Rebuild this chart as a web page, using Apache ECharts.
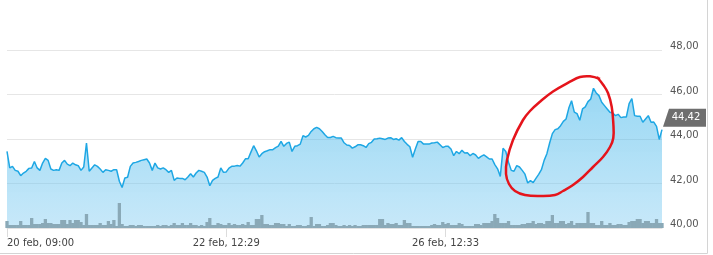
<!DOCTYPE html>
<html><head><meta charset="utf-8">
<script src="https://cdn.jsdelivr.net/npm/echarts@6/dist/echarts.min.js"></script>
<style>html,body{margin:0;padding:0;background:#fff}#c{width:713px;height:255px}</style>
</head><body><div id="c"></div>
<script>
// Tick labels on the time axis (one every 80 samples)
const tickLabels = ['20 feb, 09:00', '22 feb, 12:29', '26 feb, 12:33'];
const tickStep = 80;
const yMin = 40, yMax = 48, yStep = 2;

// Price (EUR) samples
const price = [
 43.44,42.70,42.77,42.59,42.55,42.35,42.47,42.55,42.68,42.70,42.99,42.70,42.59,42.92,43.13,43.04,42.65,42.59,42.62,42.59,
 42.92,43.04,42.87,42.80,42.92,42.84,42.80,42.59,42.74,43.82,42.55,42.70,42.84,42.77,42.65,42.50,42.62,42.59,42.55,42.62,
 42.62,42.10,41.82,42.25,42.28,42.77,42.92,42.95,42.99,43.04,43.07,43.10,42.92,42.59,42.92,42.70,42.65,42.70,42.62,42.50,
 42.59,42.14,42.25,42.23,42.23,42.17,42.29,42.44,42.29,42.47,42.59,42.55,42.50,42.29,41.90,42.14,42.23,42.29,42.70,42.50,
 42.52,42.69,42.77,42.78,42.81,42.78,42.92,43.11,43.11,43.41,43.70,43.47,43.19,43.34,43.43,43.47,43.52,43.52,43.61,43.68,
 43.89,43.67,43.80,43.86,43.44,43.67,43.70,43.77,44.15,44.09,44.16,44.34,44.46,44.52,44.46,44.34,44.19,44.07,44.07,44.12,
 44.06,44.04,44.04,43.83,43.73,43.71,43.59,43.65,43.74,43.74,43.70,43.62,43.79,43.85,44.00,44.01,44.04,44.01,43.98,44.04,
 44.06,43.98,44.01,43.95,44.06,43.89,43.76,43.65,43.18,43.55,43.89,43.89,43.77,43.77,43.77,43.82,43.83,43.86,43.74,43.62,
 43.67,43.67,43.55,43.25,43.44,43.34,43.49,43.37,43.38,43.25,43.35,43.28,43.13,43.22,43.29,43.20,43.10,43.10,42.85,42.66,
 42.32,43.58,43.44,42.96,42.59,42.55,42.80,42.74,42.59,42.42,42.02,42.13,42.04,42.23,42.41,42.62,43.04,43.34,43.82,44.24,
 44.42,44.46,44.60,44.79,44.90,45.39,45.72,45.21,45.14,44.84,45.35,45.44,45.68,45.80,46.28,46.07,45.95,45.65,45.50,45.35,
 45.20,45.17,45.05,45.11,44.96,44.99,44.99,45.59,45.82,45.05,45.02,45.02,44.75,44.90,45.05,44.75,44.76,44.57,43.98,44.42
];

// Traded volume (relative units)
const volume = [
 7,3,3,3,3,7,3,3,3,10,4,4,4,5,9,5,5,4,4,4,8,8,4,8,5,8,8,6,3,14,3,3,3,3,5,3,3,7,4,8,
 2,25,4,2,2,3,3,2,3,3,2,2,2,2,2,3,2,3,3,2,3,5,3,3,5,3,3,5,3,3,2,3,2,6,10,3,3,5,4,3,
 3,5,3,4,3,3,4,3,6,3,3,9,9,13,4,4,3,3,5,5,4,4,2,4,2,2,3,3,2,2,3,11,2,4,4,2,2,3,5,5,
 3,2,2,3,2,3,2,3,2,2,3,3,3,3,3,3,9,9,3,5,4,4,5,3,3,8,5,5,2,2,2,2,2,2,2,3,4,3,3,6,
 4,5,3,3,3,5,4,2,2,2,2,4,4,3,5,5,5,7,14,10,5,5,5,7,3,3,3,3,4,4,5,5,7,4,5,5,4,7,7,13,
 5,5,7,7,4,5,7,3,5,5,5,5,16,5,5,3,3,7,3,3,5,3,3,4,4,3,3,6,7,7,9,9,5,7,7,5,5,9,5,5
];
const volumeAxisMax = 178;

// Hand-drawn red annotation (pixel path)
const annotation = [[600,79],[590,76.3],[580,77],[570,81.7],[553,91.5],[540,101.7],[530,111],[523,120],[513,140],
 [507,160],[506,174],[509,184],[515,191],[525,195],[540,196],[555,195],[563,191],[573,185],[583,177],[593,167],
 [603,157],[610,147],[613.3,138],[613.3,123],[611.7,106.7],[608,93],[603.3,85],[597,77]];

const fmt = v => v.toFixed(2).replace('.', ',');
const priceData = price.map((v, i) => [i, v]);
const volData = volume.map((v, i) => [i, v]);

const chart = echarts.init(document.getElementById('c'), null, {renderer: 'canvas'});
chart.setOption({
  animation: false,
  grid: {left: 7, right: 51, top: 50, bottom: 27, containLabel: false, outerBoundsMode: 'none'},
  xAxis: {
    type: 'value', min: 0, max: price.length - 1, interval: tickStep,
    axisLine: {show: true, lineStyle: {color: '#e2e2e2', width: 1}},
    axisTick: {show: true, length: 9, lineStyle: {color: '#dcdcdc'}},
    splitLine: {show: false},
    axisLabel: {
      formatter: v => tickLabels[Math.round(v / tickStep)] || '',
      showMaxLabel: false, alignMinLabel: 'left',
      color: '#444', fontFamily: 'DejaVu Sans', fontSize: 10, margin: 10
    }
  },
  yAxis: [{
    type: 'value', position: 'right', min: yMin, max: yMax, interval: yStep,
    axisLine: {show: false}, axisTick: {show: false},
    splitLine: {show: true, lineStyle: {color: '#e6e6e6', width: 1}},
    axisLabel: {formatter: fmt, color: '#555', fontFamily: 'DejaVu Sans', fontSize: 10, margin: 8,
      verticalAlign: 'bottom', lineHeight: 7}
  }, {
    type: 'value', min: 0, max: volumeAxisMax, show: false, splitLine: {show: false}
  }],
  series: [{
    type: 'line', data: priceData, showSymbol: false, symbol: 'none',
    lineStyle: {color: '#1ea7e4', width: 1.5},
    areaStyle: {color: new echarts.graphic.LinearGradient(0, 0, 0, 1, [
      {offset: 0, color: 'rgba(40,172,231,0.68)'},
      {offset: 1, color: 'rgba(135,206,242,0.66)'}
    ])},
    z: 2
  }, {
    type: 'bar', yAxisIndex: 1, data: volData, barWidth: 3.3,
    itemStyle: {color: '#8aa9b7'}, z: 3
  }]
});

const last = price.length - 1;
const p = chart.convertToPixel({seriesIndex: 0}, [last, price[last]]);
chart.setOption({
  graphic: [
    {type: 'polygon', shape: {points: [[p[0] + 1, p[1] - 3], [p[0] + 7, p[1] - 21], [706, p[1] - 21], [706, p[1] - 3]]},
      style: {fill: '#6e6e6e'}, z: 10},
    {type: 'text', x: 686, y: p[1] - 12, style: {text: fmt(price[last]), fill: '#fff', fontFamily: 'DejaVu Sans',
      fontSize: 10, align: 'center', verticalAlign: 'middle'}, z: 11},
    {type: 'line', shape: {x1: 707.5, y1: 0, x2: 707.5, y2: 253.5}, style: {stroke: '#d4d4d4', lineWidth: 1}, z: 10},
    {type: 'line', shape: {x1: 0, y1: 253.5, x2: 707.5, y2: 253.5}, style: {stroke: '#d4d4d4', lineWidth: 1}, z: 10},
    {type: 'polyline', shape: {points: annotation, smooth: 0.4}, style: {stroke: '#e5141b', lineWidth: 2.5, fill: null}, z: 12}
  ]
});
</script></body></html>
